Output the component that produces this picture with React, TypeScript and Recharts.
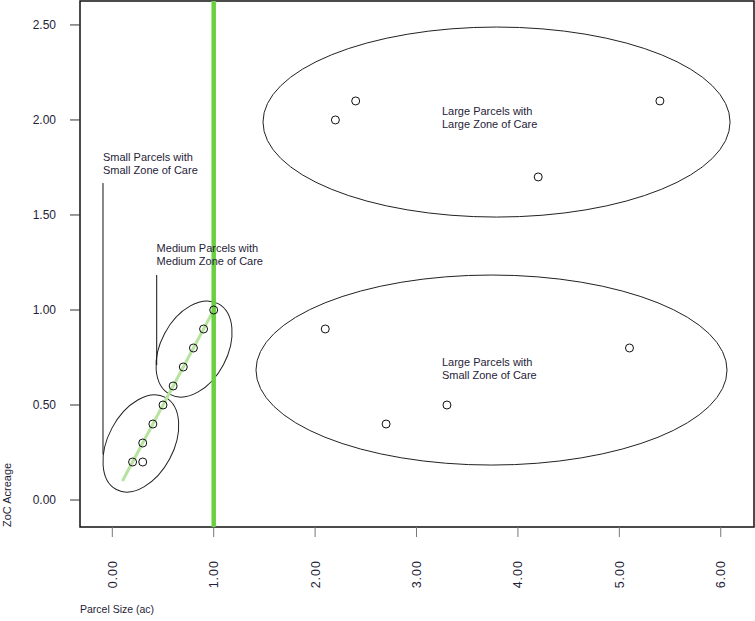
import {
  ScatterChart,
  Scatter,
  XAxis,
  YAxis,
  ReferenceLine,
  ReferenceArea,
  ReferenceDot,
  Label,
} from 'recharts';

// Parcel size (ac) vs zone of care acreage
const smallX = [0.2, 0.3, 0.3, 0.4, 0.5, 0.6, 0.7, 0.8, 0.9, 1.0];
const smallY = [0.2, 0.2, 0.3, 0.4, 0.5, 0.6, 0.7, 0.8, 0.9, 1.0];
const largeX = [2.2, 2.4, 4.2, 5.4, 2.1, 2.7, 3.3, 5.1];
const largeY = [2.0, 2.1, 1.7, 2.1, 0.9, 0.4, 0.5, 0.8];

const xTicks = [0, 1, 2, 3, 4, 5, 6];
const yTicks = [0, 0.5, 1, 1.5, 2, 2.5];
const xDomain = [-0.3185, 6.328];
const yDomain = [-0.142, 2.626];

const smallPts = smallX.map((x, i) => ({ x, y: smallY[i] }));
const largePts = largeX.map((x, i) => ({ x, y: largeY[i] }));

const FONT = '"Liberation Sans", Arial, sans-serif';
const INK = '#1f2338';

const Ring = (props: any) => (
  <circle cx={props.cx} cy={props.cy} r={4} fill="none" stroke="#111" strokeWidth={1} />
);

const PlainEllipse = (props: any) => {
  const { x, y, width, height } = props;
  return (
    <ellipse cx={x + width / 2} cy={y + height / 2} rx={width / 2} ry={height / 2}
      fill="none" stroke="#222" strokeWidth={1} />
  );
};

// ellipse tilted along the diagonal, fitted inside the area box
const TiltedEllipse = (props: any) => {
  const { x, y, width, height } = props;
  const cx = x + width / 2;
  const cy = y + height / 2;
  const hw = width / 2;
  const hh = height / 2;
  const t = (62 * Math.PI) / 180;
  const c = Math.cos(t) ** 2;
  const s = Math.sin(t) ** 2;
  const d = c * c - s * s;
  const a = Math.sqrt((hw * hw * c - hh * hh * s) / d);
  const b = Math.sqrt((hh * hh * c - hw * hw * s) / d);
  return (
    <ellipse cx={cx} cy={cy} rx={a} ry={b} transform={`rotate(-62 ${cx} ${cy})`}
      fill="none" stroke="#222" strokeWidth={1} />
  );
};

const note = (lines: string[]) => (props: any) => (
  <text x={props.cx} y={props.cy} fontFamily={FONT} fontSize={11} fill={INK}>
    {lines.map((l, i) => (
      <tspan key={i} x={props.cx} dy={i === 0 ? 0 : 13}>{l}</tspan>
    ))}
  </text>
);

const XTick = (props: any) => {
  const { x, y, payload } = props;
  return (
    <text transform={`translate(${x},${y + 23}) rotate(-90)`} textAnchor="end" dy="0.36em"
      fontFamily={FONT} fontSize={12.5} letterSpacing={1} fill={INK}>
      {Number(payload.value).toFixed(2)}
    </text>
  );
};

export default function App() {
  return (
    <div style={{ position: 'absolute', left: 0, top: 0, background: '#fff' }}>
      <ScatterChart width={755} height={621} margin={{ top: 1, right: 1, bottom: 0, left: 0 }}>
        <XAxis type="number" dataKey="x" domain={xDomain} allowDataOverflow ticks={xTicks}
          height={94} axisLine={false} tickSize={10} tickMargin={0}
          tickLine={{ stroke: '#777' }} tick={<XTick />}>
          <Label content={(p: any) => (
            <text x={p.viewBox.x} y={p.viewBox.y + p.viewBox.height - 8}
              fontFamily={FONT} fontSize={10.5} fill={INK}>Parcel Size (ac)</text>
          )} />
        </XAxis>
        <YAxis type="number" dataKey="y" domain={yDomain} allowDataOverflow ticks={yTicks}
          width={80} axisLine={false} tickSize={10} tickMargin={14}
          tickLine={{ stroke: '#333' }}
          tickFormatter={(v: number) => v.toFixed(2)}
          tick={{ fontFamily: FONT, fontSize: 12, fill: INK }}>
          <Label content={(p: any) => (
            <text transform={`translate(${p.viewBox.x + 11},${p.viewBox.y + p.viewBox.height}) rotate(-90)`}
              fontFamily={FONT} fontSize={11} fill={INK}>ZoC Acreage</text>
          )} />
        </YAxis>

        {/* plot frame */}
        <ReferenceArea x1={xDomain[0]} x2={xDomain[1]} y1={yDomain[0]} y2={yDomain[1]}
          fill="none" stroke="#111" strokeWidth={1.5} ifOverflow="visible" />

        <ReferenceArea x1={1.486} x2={6.092} y1={1.489} y2={2.489} shape={<PlainEllipse />} />
        <ReferenceArea x1={1.417} x2={6.062} y1={0.184} y2={1.184} shape={<PlainEllipse />} />
        <ReferenceArea x1={-0.092} x2={0.655} y1={0.042} y2={0.553} shape={<TiltedEllipse />} />
        <ReferenceArea x1={0.431} x2={1.181} y1={0.542} y2={1.047} shape={<TiltedEllipse />} />

        <ReferenceLine segment={[{ x: 0.1, y: 0.1 }, { x: 1, y: 1 }]} stroke="#b6e4a0" strokeWidth={3} />
        <ReferenceLine x={1} stroke="#6ad040" strokeWidth={4.5} />

        <ReferenceLine segment={[{ x: -0.0917, y: 1.668 }, { x: -0.0917, y: 0.24 }]} stroke="#111" strokeWidth={1} />
        <ReferenceLine segment={[{ x: 0.438, y: 1.184 }, { x: 0.438, y: 0.71 }]} stroke="#111" strokeWidth={1} />

        <ReferenceDot x={-0.0917} y={1.784} r={0} shape={note(['Small Parcels with', 'Small Zone of Care'])} />
        <ReferenceDot x={0.437} y={1.303} r={0} shape={note(['Medium Parcels with', 'Medium Zone of Care'])} />
        <ReferenceDot x={3.251} y={2.026} r={0} shape={note(['Large Parcels with', 'Large Zone of Care'])} />
        <ReferenceDot x={3.251} y={0.703} r={0} shape={note(['Large Parcels with', 'Small Zone of Care'])} />

        <Scatter data={smallPts} shape={Ring} isAnimationActive={false} />
        <Scatter data={largePts} shape={Ring} isAnimationActive={false} />
      </ScatterChart>
    </div>
  );
}
